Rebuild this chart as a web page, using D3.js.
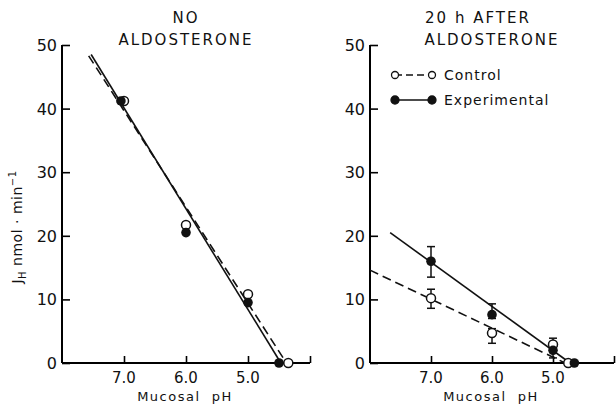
<!DOCTYPE html>
<html>
<head>
<meta charset="utf-8">
<script src="https://cdn.jsdelivr.net/npm/d3@7"></script>
<style>
  body { margin: 0; background: #fff; }
  text { font-family: "DejaVu Sans", sans-serif; fill: #111; }
</style>
</head>
<body>
<div id="chart"></div>
<script>
// tick values
const phTicks = [7.0, 6.0, 5.0];
const jTicks = [0, 10, 20, 30, 40, 50];

// left panel: no aldosterone
const noAldoControl = [
  { ph: 7.0, j: 41.2 }, { ph: 6.0, j: 21.7 }, { ph: 5.0, j: 10.8 }, { ph: 4.35, j: 0 }
];
const noAldoExp = [
  { ph: 7.05, j: 41.2 }, { ph: 6.0, j: 20.5 }, { ph: 5.0, j: 9.5 }, { ph: 4.5, j: 0 }
];
const noAldoControlFit = [{ ph: 7.57, j: 48.3 }, { ph: 4.38, j: 0 }];
const noAldoExpFit = [{ ph: 7.53, j: 48.5 }, { ph: 4.47, j: 0 }];

// right panel: 20 h after aldosterone
const afterControl = [
  { ph: 7.0, j: 10.2, lo: 8.6, hi: 11.6 },
  { ph: 6.0, j: 4.7, lo: 3.1, hi: 5.4 },
  { ph: 5.0, j: 2.9, lo: 2.2, hi: 3.9 },
  { ph: 4.75, j: 0 }
];
const afterExp = [
  { ph: 7.0, j: 16.0, lo: 13.5, hi: 18.3 },
  { ph: 6.0, j: 7.6, lo: 7.0, hi: 9.3 },
  { ph: 5.0, j: 2.0, lo: 0.8, hi: 2.6 },
  { ph: 4.65, j: 0 }
];
const afterControlFit = [{ ph: 8.0, j: 14.6 }, { ph: 4.8, j: 0 }];
const afterExpFit = [{ ph: 7.67, j: 20.5 }, { ph: 4.72, j: 0 }];

const svg = d3.select('#chart').append('svg')
  .attr('width', 616).attr('height', 406);

const y = d3.scaleLinear().domain([0, 50]).range([363, 45]);
const xL = d3.scaleLinear().domain([8, 4]).range([62, 310]);
const xR = d3.scaleLinear().domain([8, 4]).range([370, 614]);

function panel(x, titles, titleShift, control, exp, controlFit, expFit) {
  const g = svg.append('g');
  const x0 = x.range()[0];
  const mid = (x(8) + x(4)) / 2;

  // y axis, ticks pointing inward
  const ya = g.append('g').attr('transform', `translate(${x0},0)`)
    .call(d3.axisRight(y).tickValues(jTicks).tickSize(8).tickFormat(''));
  ya.select('.domain').attr('stroke-width', 2).attr('d', `M0,${y(0)}V${y(50)}`);
  ya.selectAll('.tick line').attr('stroke-width', 1.6);
  g.selectAll('.ylab').data(jTicks).enter().append('text')
    .attr('x', x0 - 5).attr('y', d => y(d) + 6)
    .attr('text-anchor', 'end').attr('font-size', 16).text(d => d);

  // x axis, ticks pointing up
  const xa = g.append('g').attr('transform', `translate(0,${y(0)})`)
    .call(d3.axisTop(x).tickValues(phTicks.concat([4])).tickSize(7).tickFormat(''));
  xa.select('.domain').attr('stroke-width', 2).attr('d', `M${x0},0H${x.range()[1]}`);
  xa.selectAll('.tick line').attr('stroke-width', 1.6);
  g.selectAll('.xlab').data(phTicks).enter().append('text')
    .attr('x', d => x(d)).attr('y', 383)
    .attr('text-anchor', 'middle').attr('font-size', 15).text(d => d.toFixed(1));
  g.append('text').attr('x', mid - 1).attr('y', 401)
    .attr('text-anchor', 'middle').attr('font-size', 13)
    .attr('letter-spacing', 1.5).attr('xml:space', 'preserve').text('Mucosal  pH');

  titles.forEach((t, i) => {
    g.append('text').attr('x', mid + titleShift[i]).attr('y', 23 + i * 22)
      .attr('text-anchor', 'middle').attr('font-size', 15)
      .attr('letter-spacing', 2).text(t);
  });

  const line = d3.line().x(d => x(d.ph)).y(d => y(d.j));
  g.append('path').datum(controlFit).attr('d', line)
    .attr('fill', 'none').attr('stroke', '#111').attr('stroke-width', 1.6)
    .attr('stroke-dasharray', '9,5');
  g.append('path').datum(expFit).attr('d', line)
    .attr('fill', 'none').attr('stroke', '#111').attr('stroke-width', 1.6);

  // error bars
  [control, exp].forEach(series => {
    const eb = g.selectAll(null).data(series.filter(d => d.lo !== undefined)).enter().append('g');
    eb.append('line').attr('x1', d => x(d.ph)).attr('x2', d => x(d.ph))
      .attr('y1', d => y(d.lo)).attr('y2', d => y(d.hi))
      .attr('stroke', '#111').attr('stroke-width', 1.5);
    ['lo', 'hi'].forEach(k => {
      eb.append('line').attr('x1', d => x(d.ph) - 4).attr('x2', d => x(d.ph) + 4)
        .attr('y1', d => y(d[k])).attr('y2', d => y(d[k]))
        .attr('stroke', '#111').attr('stroke-width', 1.5);
    });
  });

  g.selectAll(null).data(control).enter().append('circle')
    .attr('cx', d => x(d.ph)).attr('cy', d => y(d.j)).attr('r', 4.5)
    .attr('fill', '#fff').attr('stroke', '#111').attr('stroke-width', 1.5);
  g.selectAll(null).data(exp).enter().append('circle')
    .attr('cx', d => x(d.ph)).attr('cy', d => y(d.j)).attr('r', 4.8)
    .attr('fill', '#111');
  return g;
}

panel(xL, ['NO', 'ALDOSTERONE'], [0, 0], noAldoControl, noAldoExp, noAldoControlFit, noAldoExpFit);
const gR = panel(xR, ['20 h AFTER', 'ALDOSTERONE'], [-14, 0], afterControl, afterExp, afterControlFit, afterExpFit);

// y axis label
svg.append('text').attr('transform', 'translate(22,227) rotate(-90)')
  .attr('text-anchor', 'middle').attr('font-size', 14).attr('letter-spacing', 0.5)
  .html('J<tspan font-size="10" dy="4">H</tspan><tspan dy="-4"> nmol · min</tspan><tspan font-size="10" dy="-6">−1</tspan>');

// legend
const legend = [{ name: 'Control', open: true, dy: 75 }, { name: 'Experimental', open: false, dy: 100 }];
legend.forEach(l => {
  gR.append('line').attr('x1', 395).attr('x2', 432).attr('y1', l.dy).attr('y2', l.dy)
    .attr('stroke', '#111').attr('stroke-width', 1.6)
    .attr('stroke-dasharray', l.open ? '7,4' : null);
  [395, 432].forEach(cx => {
    gR.append('circle').attr('cx', cx).attr('cy', l.dy).attr('r', l.open ? 3.5 : 4)
      .attr('fill', l.open ? '#fff' : '#111').attr('stroke', '#111').attr('stroke-width', 1.3);
  });
  gR.append('text').attr('x', 444).attr('y', l.dy + 5).attr('font-size', 14)
    .attr('letter-spacing', 1).text(l.name);
});
</script>
</body>
</html>
